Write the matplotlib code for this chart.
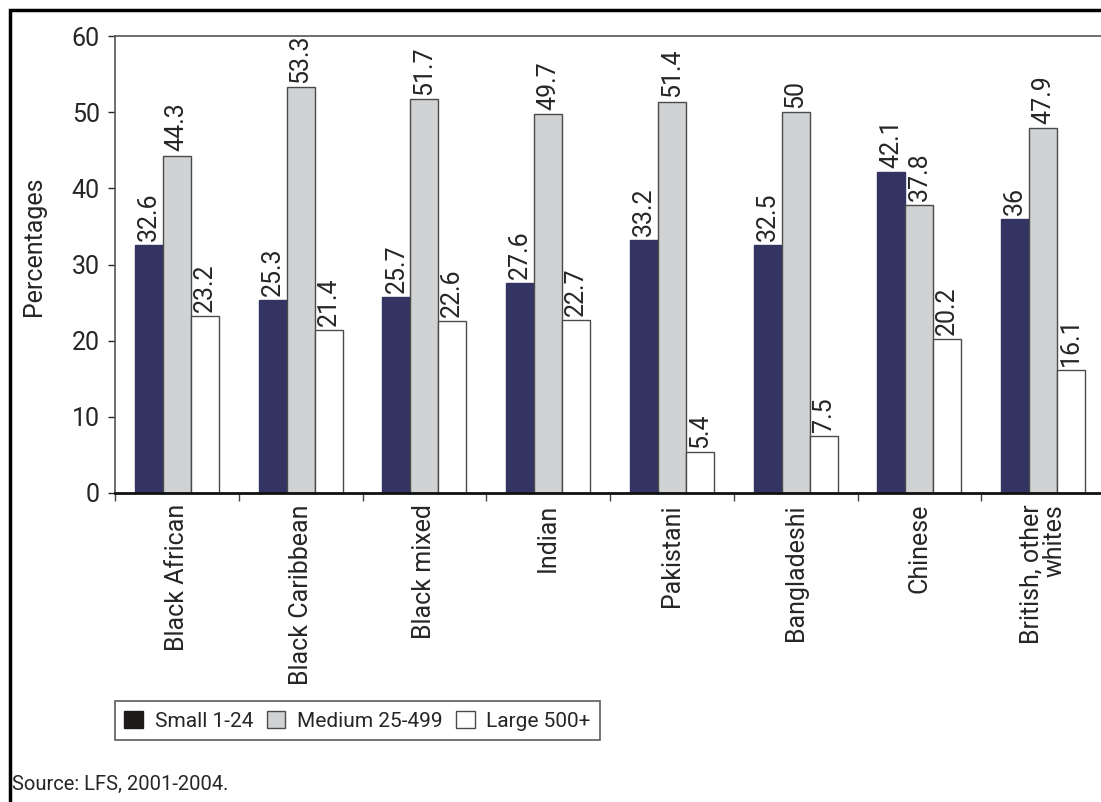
import numpy as np
import matplotlib.pyplot as plt
from matplotlib.patches import Patch, Rectangle

plt.rcParams['font.family'] = ['Roboto', 'DejaVu Sans']

groups = ['Black African', 'Black Caribbean', 'Black mixed', 'Indian',
          'Pakistani', 'Bangladeshi', 'Chinese', 'British, other\nwhites']
small  = [32.6, 25.3, 25.7, 27.6, 33.2, 32.5, 42.1, 36]
medium = [44.3, 53.3, 51.7, 49.7, 51.4, 50, 37.8, 47.9]
large  = [23.2, 21.4, 22.6, 22.7, 5.4, 7.5, 20.2, 16.1]
series_names = ['Small 1-24', 'Medium 25-499', 'Large 500+']
source = 'Source: LFS, 2001-2004.'

navy = '#333462'
grey = '#d1d2d4'
edge = '#4a4a4a'
txt = '#262626'

fig = plt.figure(figsize=(11.01, 8.02), dpi=100)
ax = fig.add_axes([115/1101, 309/802, 990/1101, 457/802])

x = np.arange(len(groups))
w = 0.226
fs = 18
for off, vals, col in [(-w, small, navy), (0, medium, grey), (w, large, 'white')]:
    bars = ax.bar(x + off, vals, w, color=col, edgecolor=edge if col != navy else navy,
                  linewidth=1.0, zorder=2)
    for b, v in zip(bars, vals):
        ax.annotate('%g' % v, (b.get_x() + b.get_width() / 2, v),
                    xytext=(0, 3), textcoords='offset points',
                    rotation=90, ha='center', va='bottom', fontsize=fs, color=txt)

ax.set_xlim(-0.5, len(groups) - 0.5)
ax.set_ylim(0, 60)
ax.set_yticks(range(0, 61, 10))
ax.tick_params(axis='y', labelsize=fs, length=5, width=1, colors=txt, pad=6)
ax.set_xticks(x)
ax.set_xticklabels(groups, rotation=90, fontsize=fs, va='top', ha='center',
                   multialignment='right', linespacing=0.95)
ax.tick_params(axis='x', length=0, pad=8, colors=txt)
ax.set_xticks(np.arange(-0.5, len(groups), 1), minor=True)
ax.tick_params(axis='x', which='minor', length=6, width=1, color='#444444')
ax.set_ylabel('Percentages', fontsize=fs, color=txt)
ax.yaxis.set_label_coords(-0.07, 0.54)

for s in ['top', 'left', 'right']:
    ax.spines[s].set_color('#555555')
    ax.spines[s].set_linewidth(1.2)
ax.spines['bottom'].set_color('#111111')
ax.spines['bottom'].set_linewidth(2)

handles = [Patch(facecolor='#1e1a1a', edgecolor='#1e1a1a'),
           Patch(facecolor=grey, edgecolor=edge),
           Patch(facecolor='white', edgecolor=edge)]
leg = fig.legend(handles, series_names, ncol=3, loc='lower left',
                 bbox_to_anchor=(115/1101, 62/802), fontsize=15, frameon=True,
                 fancybox=False, edgecolor='#333333', handlelength=0.9,
                 handleheight=0.9, handletextpad=0.55, columnspacing=0.65,
                 borderpad=0.45, borderaxespad=0)
leg.get_frame().set_linewidth(1.2)
for t in leg.get_texts():
    t.set_color(txt)

fig.text(12/1101, 18/802, source, fontsize=14.5, color=txt, va='center')

fig.patches.append(Rectangle((10/1101, -0.1), 1.1, 1.1 - 10/802, transform=fig.transFigure,
                             fill=False, edgecolor='black', linewidth=2.5))

fig.savefig('out.png', dpi=100)
